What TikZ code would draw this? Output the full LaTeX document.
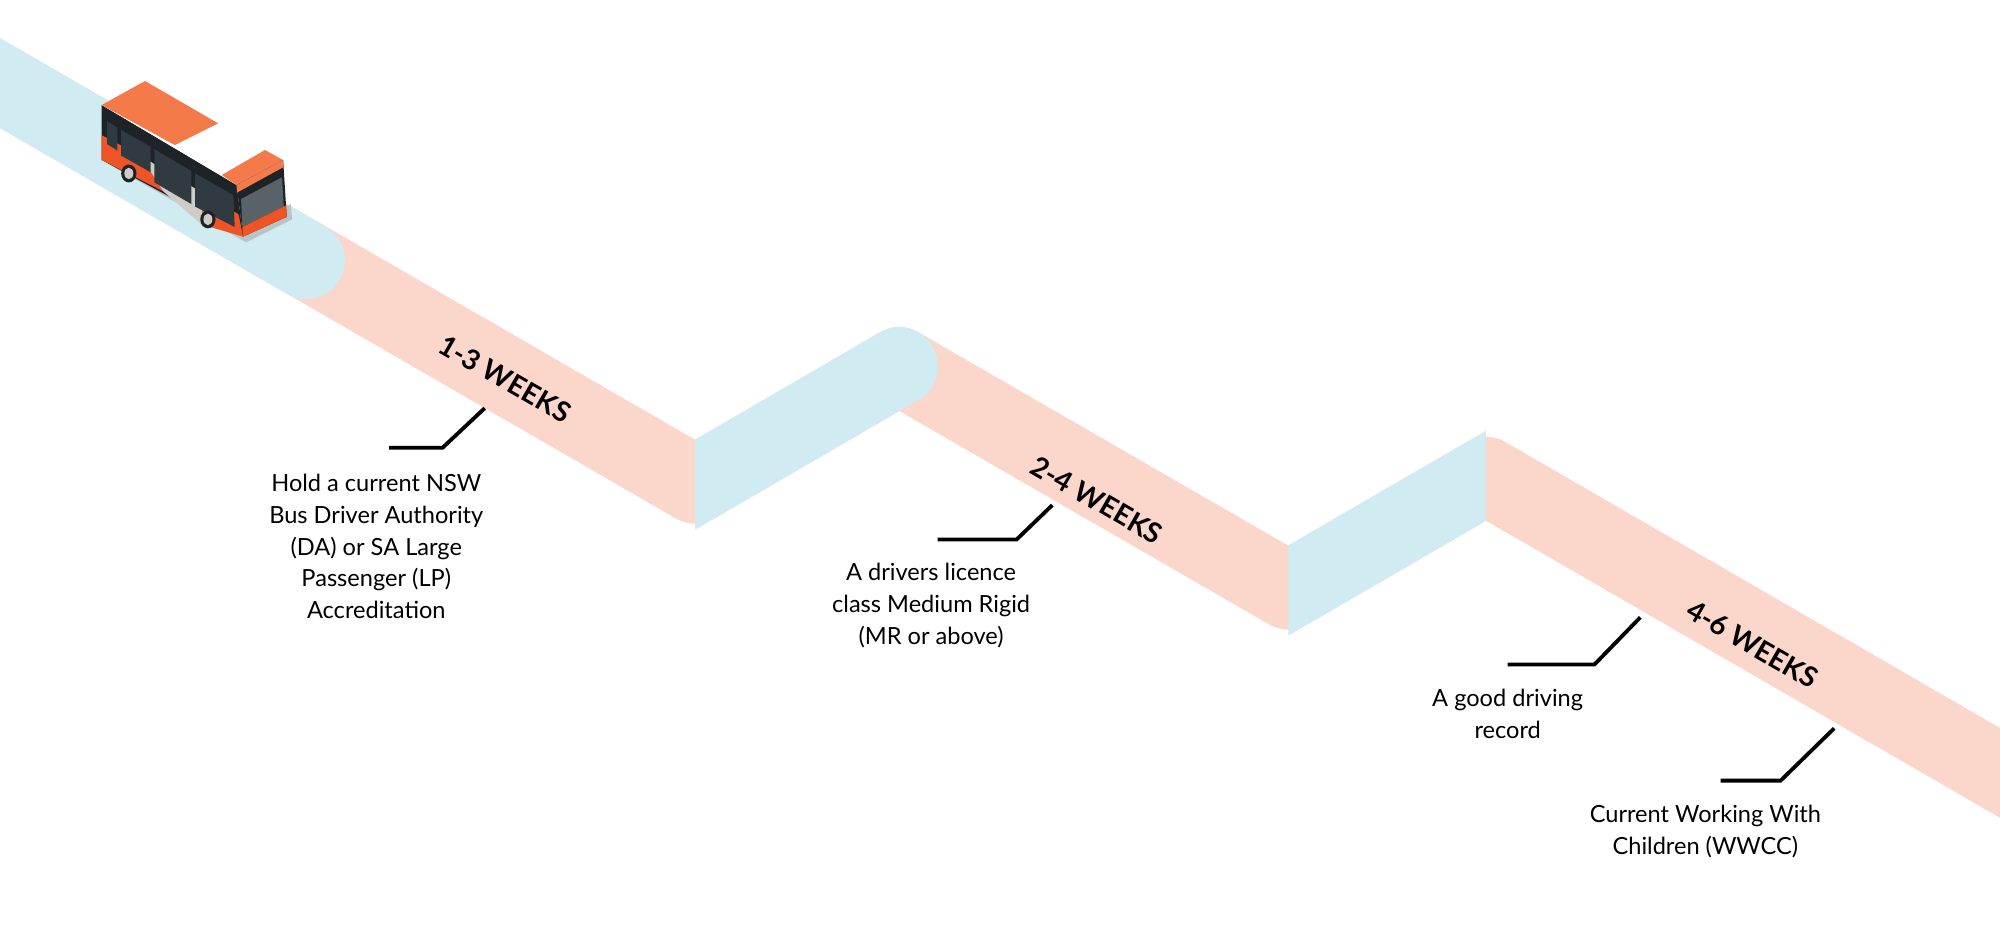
\documentclass[tikz,border=0pt]{standalone}
\usepackage{fontspec}
\setmainfont{Lato}
\definecolor{pinkband}{HTML}{FAD6CB}
\definecolor{blueband}{HTML}{D0EBF1}
\definecolor{roofor}{HTML}{F47A4A}
\definecolor{bodyor}{HTML}{EF5426}
\definecolor{busdark}{HTML}{1D2327}
\definecolor{buswin}{HTML}{2F3B41}
\definecolor{busgrey}{HTML}{CFCCC7}
\definecolor{shadowc}{HTML}{B9C4C8}
\begin{document}
\begin{tikzpicture}[x=1pt,y=-1pt,
  band/.style={line width=61pt},
  weeks/.style={font=\bfseries\fontsize{22}{24}\selectfont, rotate=-30},
  req/.style={font=\fontsize{18.5}{25}\selectfont, align=center, anchor=north},
  leader/.style={line width=3pt, black}]
\useasboundingbox (0,0) rectangle (1568,727);
\begin{scope}
\clip (0,0) rectangle (1568,727);
% pink band
\draw[band, pinkband, line join=round] (-40,42) -- (545,380) -- (705,287) -- (1010,463) -- (1165,373) -- (1620,636);
% blue start
\draw[band, blueband, line cap=round] (-40,42) -- (240,204);
% blue 2
\begin{scope}
\clip (545,0) rectangle (900,727);
\draw[band, blueband, line cap=round] (520,394.5) -- (705,287);
\end{scope}
% blue 3
\begin{scope}
\clip (1010,0) rectangle (1165,727);
\draw[band, blueband] (985,477.5) -- (1190,358.5);
\end{scope}
\end{scope}

% bus
\fill[shadowc] (84,128) -- (193,190) -- (229,172) -- (228,160) -- (190,180) -- (84,118) -- cycle;
\fill[busdark] (79.7,82.3) -- (185.5,145) -- (190.6,185.5) -- (79.7,125.4) -- cycle;
\fill[bodyor] (79.7,106) -- (110,122) -- (128,150) -- (79.7,125.4) -- cycle;
\fill[busgrey] (110,122) -- (160,152) -- (158,176) -- (128,150) -- cycle;
\fill[bodyor] (160,152) -- (187,168) -- (190.6,185.5) -- (158,176) -- cycle;
\fill[buswin] (84,95) -- (92,100) -- (92,118) -- (84,113) -- cycle;
\fill[buswin] (95,102) -- (118,115) -- (118,135) -- (95,122) -- cycle;
\fill[buswin] (121,117) -- (150,134) -- (150,160) -- (121,143) -- cycle;
\fill[buswin] (153,136) -- (183,153) -- (184,178) -- (153,162) -- cycle;
\fill[white] (79.7,82.3) -- (113.7,63.5) -- (222,125.5) -- (185.5,145) -- cycle;
\fill[roofor] (79.7,82.3) -- (113.7,63.5) -- (171,96.7) -- (137,113.7) -- cycle;
\fill[roofor] (207.8,117.6) -- (222,125.5) -- (185.5,145) -- (173.8,137.2) -- cycle;
\fill[busdark] (185.5,145) -- (222,125.5) -- (224.8,170) -- (190.6,185.5) -- cycle;
\fill[roofor] (185.5,145) -- (222,125.5) -- (222.3,131) -- (185.8,151) -- cycle;
\fill[buswin!80!white] (189,156) -- (221,139) -- (222.5,162) -- (190,178) -- cycle;
\fill[bodyor] (190,178) -- (224.5,161) -- (224.8,170) -- (190.6,185.5) -- cycle;
\fill[busdark] (101,136) ellipse (6pt and 7pt);
\fill[busgrey] (101,136) ellipse (3.5pt and 4.5pt);
\fill[busdark] (163,172) ellipse (6pt and 7pt);
\fill[busgrey] (163,172) ellipse (3.5pt and 4.5pt);

% week labels
\node[weeks] (w1) at (396,297) {1-3 WEEKS};
\node[weeks] (w2) at (860,392) {2-4 WEEKS};
\node[weeks] (w3) at (1374,505) {4-6 WEEKS};

% requirement texts
\node[req] (r1) at (295,368) {Hold a current NSW\\Bus Driver Authority\\(DA) or SA Large\\Passenger (LP)\\Accreditation};
\node[req] (r2) at (730,438) {A drivers licence\\class Medium Rigid\\(MR or above)};
\node[req] (r3) at (1182,537) {A good driving\\record};
\node[req] (r4) at (1337,628) {Current Working With\\Children (WWCC)};

% leaders
\coordinate (a1) at (305,351); \coordinate (b1) at (347,351); \coordinate (c1) at (380,320);
\coordinate (a2) at (735,423); \coordinate (b2) at (797,423); \coordinate (c2) at (825,396);
\coordinate (a3) at (1182,521); \coordinate (b3) at (1250,521); \coordinate (c3) at (1286,484);
\coordinate (a4) at (1349,612); \coordinate (b4) at (1396,612); \coordinate (c4) at (1438,571);
\draw[leader] (a1) -- (b1) -- (c1);
\draw[leader] (a2) -- (b2) -- (c2);
\draw[leader] (a3) -- (b3) -- (c3);
\draw[leader] (a4) -- (b4) -- (c4);
\end{tikzpicture}
\end{document}
